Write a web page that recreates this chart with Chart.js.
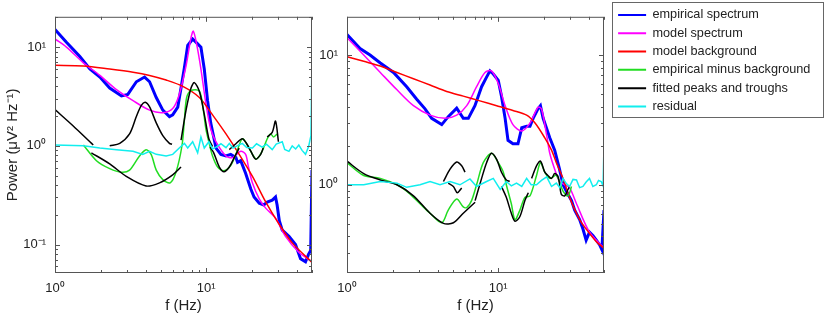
<!DOCTYPE html>
<html>
<head>
<meta charset="utf-8">
<script src="https://cdn.jsdelivr.net/npm/chart.js@4"></script>
<style>
  body { margin: 0; background: #fff; }
  canvas { position: absolute; top: 0; }
  #left { left: 0; }
  #right { left: 300px; }
</style>
</head>
<body>
<canvas id="left" width="330" height="316"></canvas>
<canvas id="right" width="527" height="316"></canvas>
<script>
// series names (legend order)
const seriesNames = ['empirical spectrum', 'model spectrum', 'model background',
  'empirical minus background', 'fitted peaks and troughs', 'residual'];

// ---- left panel, [f (Hz), power] ----
const leftEmpirical = [[1,15.1],[1.19,11.2],[1.46,8.05],[1.70,6.0],[1.98,4.98],[2.30,3.85],[2.75,3.2],[3.03,3.32],[3.45,4.46],[3.91,4.98],[4.22,4.46],[4.67,3.09],[5.16,2.3],[5.71,1.98],[6.0,2.06],[6.48,2.47],[6.81,3.85],[7.17,6.22],[7.54,10.4],[8.13,12.1],[8.77,10.8],[9.22,10.0],[9.70,6.0],[10.2,2.87],[10.7,1.71],[11.6,0.95],[12.5,0.82],[13.5,0.79],[14.5,0.82],[15.7,0.76],[16.1,0.68],[16.9,0.707],[18.2,0.527],[19.7,0.365],[20.7,0.303],[22.4,0.262],[24.0,0.252],[25.3,0.27],[27.3,0.282],[28.7,0.303],[29.4,0.252],[30.4,0.174],[31.8,0.14],[35.2,0.121],[38.9,0.1],[42.0,0.072],[45.3,0.067],[47.5,0.080],[49.0,0.087],[50,0.57]];
const leftModel = [[1,12.1],[1.19,10.0],[1.54,6.94],[1.98,5.17],[2.55,3.71],[3.28,2.87],[4.22,2.3],[5.16,2.17],[6.0,2.39],[6.63,3.32],[7.35,6.45],[7.93,12.5],[8.21,14.5],[8.63,10.8],[9.22,6.0],[9.95,2.66],[10.7,1.48],[11.6,1.1],[13.5,0.79],[14.9,0.76],[16.9,0.88],[18.2,0.82],[19.0,0.61],[20.2,0.42],[22.4,0.29],[24.7,0.234],[28.7,0.185],[33.4,0.121],[40.9,0.0835],[50,0.067]];
const leftBackground = [[1,6.55],[1.54,6.45],[2.30,6.0],[3.28,5.57],[4.22,5.17],[5.43,4.64],[7.0,4.0],[9.0,3.09],[11.0,2.06],[13.5,1.32],[16.5,0.82],[20.2,0.49],[24.7,0.27],[30.2,0.162],[37.0,0.104],[50,0.066]];
const leftDiff = [
  [[1.54,1.02],[1.88,0.707],[2.30,0.588],[2.75,0.54],[3.11,0.567],[3.62,0.79],[4.0,0.915],[4.32,0.82],[4.67,0.567],[5.16,0.455],[5.77,0.422],[6.32,0.546],[6.92,1.02],[7.17,1.84],[7.42,3.09],[7.93,3.63],[9.0,3.58],[9.56,2.3],[9.95,1.48],[10.4,1.10],[11.0,0.79],[11.9,0.61],[13.1,0.56],[14.5,0.633],[15.7,0.82],[17.3,1.18],[18.7,1.02],[20.2,0.82],[21.5,0.734],[23.4,0.882],[25.3,1.18],[26.6,1.32],[27.9,1.23],[29.4,1.32]]
];
const leftFit = [
  [[1,2.33],[1.32,1.59],[1.70,1.10],[1.79,1.02]],
  [[2.30,1.0],[2.68,1.06],[3.11,1.32],[3.45,1.98],[3.72,2.57],[3.95,2.77],[4.22,2.48],[4.67,1.71],[5.16,1.27],[5.71,1.06],[5.94,1.04]],
  [[1.74,0.85],[2.30,0.657],[2.96,0.49],[4.0,0.392],[4.91,0.422],[6.0,0.508],[6.81,0.61]],
  [[6.81,1.14],[7.35,2.3],[7.93,3.85],[8.34,4.37],[9.0,3.58],[9.7,2.1],[10.4,1.18],[11.0,0.985]],
  [[10.6,0.97],[11.2,0.85],[12.2,0.61],[13.1,0.547],[14.2,0.61],[15.3,0.76],[16.5,0.95]],
  [[14.2,0.915],[15.7,1.05],[17.3,1.18],[18.5,1.05],[19.7,0.882],[21.2,0.734],[22.9,0.82],[23.8,0.95]],
  [[25.3,1.23],[27.3,1.37],[28.7,1.78],[30.0,1.10]]
];
const leftResidual = [[1,1.02],[1.54,1.0],[1.98,0.95],[2.55,0.915],[3.28,0.882],[3.8,0.82],[4.22,0.882],[4.67,0.82],[5.43,0.79],[6.0,0.82],[6.63,0.95],[7.17,1.06],[7.54,0.95],[8.13,1.10],[8.77,0.85],[9.22,1.23],[9.7,0.95],[10.4,1.10],[11.0,0.93],[11.6,0.97],[12.5,1.05],[13.5,0.96],[14.2,1.06],[15.0,0.95],[16.0,1.0],[17.3,1.06],[18.5,0.96],[20.2,0.95],[21.5,1.05],[23.4,0.97],[25.0,1.04],[27.3,0.915],[29.0,1.04],[31.8,1.10],[33.0,0.92],[35.2,0.88],[37.0,1.0],[39.0,0.93],[40.9,1.02],[43.0,0.9],[45.3,0.82],[47.5,0.985],[49.2,1.27],[50,8.0]];

// ---- right panel ----
const rightEmpirical = [[1,14.4],[1.22,11.2],[1.42,10.0],[1.66,8.69],[2.03,7.34],[2.48,5.7],[2.89,4.56],[3.28,3.85],[3.63,3.25],[4.23,2.91],[4.67,3.35],[5.31,3.89],[5.87,3.25],[6.34,3.25],[7.01,4.07],[7.76,5.7],[8.37,6.75],[8.81,7.55],[9.27,7.14],[10.0,6.38],[10.5,4.82],[11.1,3.25],[11.6,2.2],[12.5,2.07],[13.5,2.07],[14.3,2.75],[15.4,2.83],[16.2,2.83],[17.0,3.25],[18.3,3.85],[19.0,4.07],[19.8,3.25],[21.9,2.3],[23.6,1.85],[25.4,1.32],[26.8,1.0],[28.9,0.845],[30.5,0.755],[32.0,0.638],[34.5,0.539],[36.3,0.456],[38.1,0.374],[40.1,0.431],[42.2,0.407],[44.5,0.374],[46.8,0.344],[48.4,0.316],[50,0.638]];
const rightModel = [[1,13.6],[1.29,10.0],[1.66,7.34],[2.14,5.39],[2.75,4.07],[3.54,3.44],[4.45,3.25],[5.31,3.44],[6.19,4.07],[7.19,5.7],[8.17,7.34],[9.02,7.55],[10.0,6.03],[11.1,4.07],[12.5,2.91],[14.3,2.6],[16.2,2.99],[18.3,3.96],[19.3,3.85],[20.9,2.4],[21.9,1.75],[23.6,1.32],[25.4,1.06],[27.5,1.0],[29.6,0.95],[32.9,0.714],[40.1,0.431],[50,0.325]];
const rightBackground = [[1,9.72],[1.29,8.94],[1.66,8.22],[2.14,7.34],[2.75,6.56],[3.54,5.87],[4.56,5.24],[5.87,4.82],[7.56,4.43],[9.76,4.07],[12.5,3.74],[15.4,3.44],[17.5,2.99],[20.3,2.3],[22.5,1.85],[24.2,1.48],[26.8,1.12],[29.6,0.8],[34.5,0.539],[38.1,0.456],[44.5,0.364],[50,0.325]];
const rightDiff = [
  [[1,1.48],[1.29,1.18],[1.66,1.12],[2.14,1.0],[2.48,0.894],[3.04,0.714],[3.54,0.603],[4.23,0.51],[4.67,0.638],[5.31,0.777],[5.87,0.675],[6.19,0.667],[6.66,0.755],[7.19,1.0],[7.96,1.48],[9.02,1.75],[10.0,1.48],[10.8,1.25],[11.3,1.0],[12.2,0.714],[12.9,0.539],[13.9,0.638],[15.0,0.80],[16.2,0.82],[17.9,1.18],[19.0,1.48],[20.3,1.25],[21.9,1.12],[24.2,1.18],[26.8,0.894],[28.9,0.82],[30.5,0.97]]
];
const rightFit = [
  [[1,1.52],[1.29,1.22],[1.66,1.09],[2.14,1.0],[2.75,0.822],[3.54,0.603],[4.34,0.504],[5.05,0.51],[5.87,0.603],[7.03,0.734]],
  [[4.34,1.06],[4.80,1.32],[5.31,1.50],[5.73,1.40],[6.03,1.25]],
  [[4.67,1.03],[5.05,0.97],[5.36,0.869],[5.73,0.945]],
  [[7.03,0.755],[7.76,1.12],[8.37,1.48],[9.02,1.75],[9.76,1.57],[10.5,1.25],[11.3,1.09],[11.9,1.06]],
  [[10.5,0.97],[11.3,0.80],[12.2,0.603],[12.9,0.524],[13.9,0.57],[15.0,0.755],[15.8,0.869]],
  [[16.6,1.12],[17.9,1.40],[19.0,1.52],[20.3,1.25],[21.3,1.18],[22.5,1.12],[23.6,1.22],[24.9,1.15],[26.1,0.845],[27.5,0.822],[28.9,0.92],[29.6,0.97]]
];
const rightResidual = [[1,1.0],[1.29,1.0],[1.66,1.06],[2.14,1.03],[2.48,0.956],[3.04,1.0],[3.54,1.06],[4.12,1.0],[4.80,1.06],[5.58,1.0],[6.5,1.11],[7.19,0.97],[8.37,1.06],[9.27,1.12],[10.3,0.92],[11.3,1.06],[12.2,0.98],[13.2,1.03],[14.3,0.97],[15.4,1.12],[16.5,1.0],[17.9,1.0],[19.3,1.08],[20.9,1.15],[22.5,0.97],[24.2,1.03],[25.5,0.95],[26.8,1.12],[28.2,1.02],[29.6,0.97],[31.2,1.1],[32.9,1.09],[34.5,0.95],[36.3,0.97],[38.1,1.05],[40.1,1.12],[42.2,0.97],[44.5,1.0],[46.0,1.08],[47.9,1.06],[49.3,0.98],[50,2.07]];

// axis ranges
const fRange = [1, 50];
const leftPowerRange = [0.0515, 20.3];
const rightPowerRange = [0.209, 19.7];

const colors = ['#0000ff', '#ff00ff', '#ff0000', '#22dd22', '#000000', '#11eeee'];
const widths = [3, 1.5, 1.5, 1.5, 1.5, 1.5];

Chart.defaults.font.family = "'Liberation Sans', Arial, Helvetica, sans-serif";
Chart.defaults.color = '#222';

const sup = { '0': '\u2070', '1': '\u00b9', '2': '\u00b2', '3': '\u00b3', '-': '\u207b' };
function isDecade(v) { return Math.abs(Math.log10(v) - Math.round(Math.log10(v))) < 1e-6; }
function decadeLabel(v) {
  if (!isDecade(v)) return '';
  return '10' + String(Math.round(Math.log10(v))).split('').map(c => sup[c]).join('');
}
function logTicks(scale) {
  const out = [];
  for (let d = Math.floor(Math.log10(scale.min)); d <= Math.ceil(Math.log10(scale.max)); d++) {
    for (let m = 1; m < 10; m++) {
      const v = +(m * Math.pow(10, d)).toPrecision(6);
      if (v >= scale.min * 0.9999 && v <= scale.max * 1.0001) out.push({ value: v });
    }
  }
  scale.ticks = out;
}

function toPoints(segs) {
  const out = [];
  segs.forEach((s, i) => {
    if (i) out.push({ x: s[0][0], y: null });
    s.forEach(([x, y]) => out.push({ x, y }));
  });
  return out;
}

function makeDatasets(series) {
  return series.map((segs, i) => ({
    label: seriesNames[i],
    data: toPoints(segs),
    borderColor: colors[i],
    backgroundColor: colors[i],
    borderWidth: widths[i],
    pointRadius: 0,
    tension: i === 0 || i === 5 ? 0 : 0.3,
    order: 6 - i
  }));
}

// box around the axes with inward tick marks on all four sides
const frameTicks = {
  id: 'frameTicks',
  afterDatasetsDraw(chart) {
    const { ctx, chartArea: a, scales: { x, y } } = chart;
    ctx.save();
    ctx.strokeStyle = '#555';
    ctx.lineWidth = 1;
    ctx.strokeRect(a.left + 0.5, a.top + 0.5, a.right - a.left - 1, a.bottom - a.top - 1);
    ctx.beginPath();
    x.ticks.forEach(t => {
      const px = Math.round(x.getPixelForValue(t.value)) + 0.5;
      const len = isDecade(t.value) ? 5 : 3;
      ctx.moveTo(px, a.bottom); ctx.lineTo(px, a.bottom - len);
      ctx.moveTo(px, a.top); ctx.lineTo(px, a.top + len);
    });
    y.ticks.forEach(t => {
      const py = Math.round(y.getPixelForValue(t.value)) + 0.5;
      const len = isDecade(t.value) ? 5 : 3;
      ctx.moveTo(a.left, py); ctx.lineTo(a.left + len, py);
      ctx.moveTo(a.right, py); ctx.lineTo(a.right - len, py);
    });
    ctx.stroke();
    ctx.restore();
  }
};

// put the legend where the figure has it and draw its box
const legendBox = {
  id: 'legendBox',
  beforeDraw(chart) {
    const lg = chart.legend;
    lg.left = 312.5; lg.right = lg.left + lg.width;
    lg.top = 3; lg.bottom = 316;
  },
  afterDraw(chart) {
    const ctx = chart.ctx;
    ctx.save();
    ctx.strokeStyle = '#666';
    ctx.lineWidth = 1;
    ctx.strokeRect(312.5, 2.5, 211, 115);
    ctx.restore();
  }
};

function makeOptions(powerRange, yWidth, padRight, yTitle, showLegend) {
  return {
    responsive: false,
    animation: false,
    events: [],
    layout: { padding: { top: 3, right: padRight, bottom: 0, left: 0 } },
    plugins: {
      legend: {
        display: showLegend,
        position: 'right',
        align: 'start',
        maxWidth: 200,
        labels: {
          usePointStyle: true,
          pointStyle: 'line',
          pointStyleWidth: 28,
          padding: 5.6,
          font: { size: 12.7 },
          color: '#222',
          sort: (a, b) => a.datasetIndex - b.datasetIndex,
          generateLabels: (chart) => Chart.defaults.plugins.legend.labels.generateLabels(chart)
            .map(l => Object.assign(l, { lineWidth: 2 }))
        }
      },
      tooltip: { enabled: false }
    },
    scales: {
      x: {
        type: 'logarithmic',
        min: fRange[0],
        max: fRange[1],
        afterBuildTicks: logTicks,
        afterFit: (s) => { s.height = 43; },
        grid: { display: false, drawTicks: false },
        border: { display: false },
        ticks: { callback: decadeLabel, autoSkip: false, maxRotation: 0, padding: 8, font: { size: 13 }, color: '#222' },
        title: { display: true, text: 'f (Hz)', font: { size: 15 }, color: '#222', padding: { top: 0, bottom: 1 } }
      },
      y: {
        type: 'logarithmic',
        min: powerRange[0],
        max: powerRange[1],
        afterBuildTicks: logTicks,
        afterFit: (s) => { s.width = yWidth; },
        grid: { display: false, drawTicks: false },
        border: { display: false },
        ticks: { callback: decadeLabel, autoSkip: false, padding: 9, font: { size: 13 }, color: '#222' },
        title: { display: !!yTitle, text: yTitle, font: { size: 15 }, color: '#222', padding: { top: 4, bottom: 0 } }
      }
    }
  };
}

new Chart(document.getElementById('left'), {
  type: 'line',
  data: { datasets: makeDatasets([[leftEmpirical], [leftModel], [leftBackground], leftDiff, leftFit, [leftResidual]]) },
  options: makeOptions(leftPowerRange, 55, 18, 'Power (\u03bcV\u00b2 Hz\u207b\u00b9)', false),
  plugins: [frameTicks]
});

new Chart(document.getElementById('right'), {
  type: 'line',
  data: { datasets: makeDatasets([[rightEmpirical], [rightModel], [rightBackground], rightDiff, rightFit, [rightResidual]]) },
  options: makeOptions(rightPowerRange, 47, 23, '', true),
  plugins: [frameTicks, legendBox]
});
</script>
</body>
</html>
